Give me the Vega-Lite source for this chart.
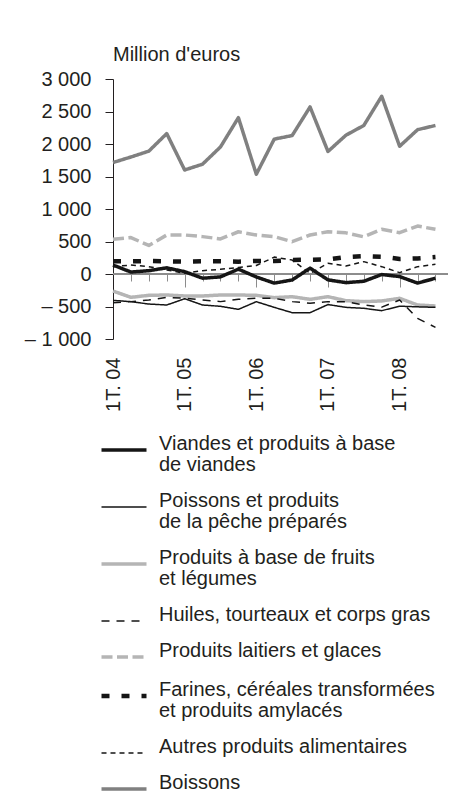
{
  "$schema": "https://vega.github.io/schema/vega-lite/v6.json",
  "width": 335,
  "height": 260,
  "autosize": "none",
  "padding": {"left": 113, "top": 79, "right": 1, "bottom": 462},
  "background": "white",
  "title": {"text": "Million d'euros", "anchor": "start", "frame": "group", "fontSize": 20, "fontWeight": "normal", "font": "Liberation Sans", "color": "#231f20", "baseline": "alphabetic", "offset": -12},
  "config": {
    "view": {"stroke": null},
    "font": "Liberation Sans",
    "axis": {"labelFont": "Liberation Sans", "labelFontSize": 20, "labelColor": "#231f20", "grid": false, "title": null}
  },
  "data": {"values": [
    {"q":0,"serie":"Boissons","v":1715},{"q":1,"serie":"Boissons","v":1800},{"q":2,"serie":"Boissons","v":1890},{"q":3,"serie":"Boissons","v":2160},{"q":4,"serie":"Boissons","v":1600},{"q":5,"serie":"Boissons","v":1690},{"q":6,"serie":"Boissons","v":1955},{"q":7,"serie":"Boissons","v":2405},{"q":8,"serie":"Boissons","v":1535},{"q":9,"serie":"Boissons","v":2075},{"q":10,"serie":"Boissons","v":2130},{"q":11,"serie":"Boissons","v":2570},{"q":12,"serie":"Boissons","v":1885},{"q":13,"serie":"Boissons","v":2135},{"q":14,"serie":"Boissons","v":2285},{"q":15,"serie":"Boissons","v":2735},{"q":16,"serie":"Boissons","v":1965},{"q":17,"serie":"Boissons","v":2220},{"q":18,"serie":"Boissons","v":2285},
    {"q":0,"serie":"Laitiers","v":533},{"q":1,"serie":"Laitiers","v":560},{"q":2,"serie":"Laitiers","v":440},{"q":3,"serie":"Laitiers","v":600},{"q":4,"serie":"Laitiers","v":600},{"q":5,"serie":"Laitiers","v":575},{"q":6,"serie":"Laitiers","v":540},{"q":7,"serie":"Laitiers","v":650},{"q":8,"serie":"Laitiers","v":600},{"q":9,"serie":"Laitiers","v":575},{"q":10,"serie":"Laitiers","v":497},{"q":11,"serie":"Laitiers","v":600},{"q":12,"serie":"Laitiers","v":651},{"q":13,"serie":"Laitiers","v":633},{"q":14,"serie":"Laitiers","v":572},{"q":15,"serie":"Laitiers","v":687},{"q":16,"serie":"Laitiers","v":636},{"q":17,"serie":"Laitiers","v":738},{"q":18,"serie":"Laitiers","v":687},
    {"q":0,"serie":"Fruits","v":-262},{"q":1,"serie":"Fruits","v":-359},{"q":2,"serie":"Fruits","v":-328},{"q":3,"serie":"Fruits","v":-323},{"q":4,"serie":"Fruits","v":-338},{"q":5,"serie":"Fruits","v":-338},{"q":6,"serie":"Fruits","v":-323},{"q":7,"serie":"Fruits","v":-323},{"q":8,"serie":"Fruits","v":-328},{"q":9,"serie":"Fruits","v":-364},{"q":10,"serie":"Fruits","v":-349},{"q":11,"serie":"Fruits","v":-390},{"q":12,"serie":"Fruits","v":-349},{"q":13,"serie":"Fruits","v":-410},{"q":14,"serie":"Fruits","v":-425},{"q":15,"serie":"Fruits","v":-415},{"q":16,"serie":"Fruits","v":-374},{"q":17,"serie":"Fruits","v":-477},{"q":18,"serie":"Fruits","v":-492},
    {"q":0,"serie":"Farines","v":195},{"q":1,"serie":"Farines","v":195},{"q":2,"serie":"Farines","v":200},{"q":3,"serie":"Farines","v":195},{"q":4,"serie":"Farines","v":190},{"q":5,"serie":"Farines","v":195},{"q":6,"serie":"Farines","v":195},{"q":7,"serie":"Farines","v":190},{"q":8,"serie":"Farines","v":200},{"q":9,"serie":"Farines","v":200},{"q":10,"serie":"Farines","v":215},{"q":11,"serie":"Farines","v":220},{"q":12,"serie":"Farines","v":225},{"q":13,"serie":"Farines","v":262},{"q":14,"serie":"Farines","v":275},{"q":15,"serie":"Farines","v":265},{"q":16,"serie":"Farines","v":232},{"q":17,"serie":"Farines","v":240},{"q":18,"serie":"Farines","v":260},
    {"q":0,"serie":"Autres","v":113},{"q":1,"serie":"Autres","v":138},{"q":2,"serie":"Autres","v":113},{"q":3,"serie":"Autres","v":62},{"q":4,"serie":"Autres","v":10},{"q":5,"serie":"Autres","v":51},{"q":6,"serie":"Autres","v":72},{"q":7,"serie":"Autres","v":100},{"q":8,"serie":"Autres","v":130},{"q":9,"serie":"Autres","v":260},{"q":10,"serie":"Autres","v":215},{"q":11,"serie":"Autres","v":10},{"q":12,"serie":"Autres","v":164},{"q":13,"serie":"Autres","v":123},{"q":14,"serie":"Autres","v":190},{"q":15,"serie":"Autres","v":113},{"q":16,"serie":"Autres","v":21},{"q":17,"serie":"Autres","v":113},{"q":18,"serie":"Autres","v":149},
    {"q":0,"serie":"Huiles","v":-441},{"q":1,"serie":"Huiles","v":-425},{"q":2,"serie":"Huiles","v":-400},{"q":3,"serie":"Huiles","v":-359},{"q":4,"serie":"Huiles","v":-374},{"q":5,"serie":"Huiles","v":-400},{"q":6,"serie":"Huiles","v":-425},{"q":7,"serie":"Huiles","v":-390},{"q":8,"serie":"Huiles","v":-374},{"q":9,"serie":"Huiles","v":-374},{"q":10,"serie":"Huiles","v":-425},{"q":11,"serie":"Huiles","v":-451},{"q":12,"serie":"Huiles","v":-425},{"q":13,"serie":"Huiles","v":-425},{"q":14,"serie":"Huiles","v":-477},{"q":15,"serie":"Huiles","v":-510},{"q":16,"serie":"Huiles","v":-400},{"q":17,"serie":"Huiles","v":-682},{"q":18,"serie":"Huiles","v":-820},
    {"q":0,"serie":"Poissons","v":-405},{"q":1,"serie":"Poissons","v":-426},{"q":2,"serie":"Poissons","v":-462},{"q":3,"serie":"Poissons","v":-477},{"q":4,"serie":"Poissons","v":-380},{"q":5,"serie":"Poissons","v":-477},{"q":6,"serie":"Poissons","v":-497},{"q":7,"serie":"Poissons","v":-544},{"q":8,"serie":"Poissons","v":-426},{"q":9,"serie":"Poissons","v":-513},{"q":10,"serie":"Poissons","v":-595},{"q":11,"serie":"Poissons","v":-595},{"q":12,"serie":"Poissons","v":-470},{"q":13,"serie":"Poissons","v":-513},{"q":14,"serie":"Poissons","v":-528},{"q":15,"serie":"Poissons","v":-564},{"q":16,"serie":"Poissons","v":-495},{"q":17,"serie":"Poissons","v":-505},{"q":18,"serie":"Poissons","v":-513},
    {"q":0,"serie":"Viandes","v":138},{"q":1,"serie":"Viandes","v":30},{"q":2,"serie":"Viandes","v":51},{"q":3,"serie":"Viandes","v":95},{"q":4,"serie":"Viandes","v":36},{"q":5,"serie":"Viandes","v":-65},{"q":6,"serie":"Viandes","v":-44},{"q":7,"serie":"Viandes","v":75},{"q":8,"serie":"Viandes","v":-46},{"q":9,"serie":"Viandes","v":-140},{"q":10,"serie":"Viandes","v":-92},{"q":11,"serie":"Viandes","v":90},{"q":12,"serie":"Viandes","v":-90},{"q":13,"serie":"Viandes","v":-133},{"q":14,"serie":"Viandes","v":-112},{"q":15,"serie":"Viandes","v":-8},{"q":16,"serie":"Viandes","v":-40},{"q":17,"serie":"Viandes","v":-140},{"q":18,"serie":"Viandes","v":-65}
  ]},
  "layer": [
    {
      "mark": {"type": "rule", "color": "#8c8c8c", "strokeWidth": 1},
      "encoding": {
        "y": {"datum": 0, "type": "quantitative", "scale": {"domain": [-1000, 3000], "nice": false},
          "axis": {"values": [-1000,-500,0,500,1000,1500,2000,2500,3000], "tickSize": 8, "labelPadding": 14,
            "domainColor": "#231f20", "tickColor": "#231f20", "title": null,
            "labelExpr": "datum.value < 0 ? '– ' + replace(format(-datum.value, ','), ',', ' ') : replace(format(datum.value, ','), ',', ' ')"}},
        "x": {"datum": 0, "type": "quantitative", "scale": {"domain": [0, 18.7], "nice": false, "zero": false},
          "axis": {"orient": "bottom", "offset": -65, "domain": false, "labels": false, "title": null,
            "values": [1,2,3,4,5,6,7,8,9,10,11,12,13,14,15,16,17,18],
            "tickColor": "#8c8c8c", "tickWidth": 1,
            "tickSize": {"condition": {"test": "datum.value % 4 === 0", "value": 13}, "value": 7}}},
        "x2": {"datum": 18.7}
      }
    },
    {
      "mark": {"type": "line", "strokeJoin": "round"},
      "encoding": {
        "x": {"field": "q", "type": "quantitative", "scale": {"domain": [0, 18.7], "nice": false, "zero": false},
          "axis": {"orient": "bottom", "values": [0,4,8,12,16], "labelAngle": -90, "ticks": false, "domain": false,
            "labelPadding": 18, "labelFlush": false, "labelOverlap": false, "title": null,
            "labelExpr": "'1T. ' + ['04','05','06','07','08'][round(datum.value/4)]"}},
        "y": {"field": "v", "type": "quantitative", "scale": {"domain": [-1000, 3000], "nice": false},
          "axis": {"values": [-1000,-500,0,500,1000,1500,2000,2500,3000], "tickSize": 8, "labelPadding": 14,
            "domainColor": "#231f20", "tickColor": "#231f20", "title": null,
            "labelExpr": "datum.value < 0 ? '– ' + replace(format(-datum.value, ','), ',', ' ') : replace(format(datum.value, ','), ',', ' ')"}},
        "color": {"field": "serie", "type": "nominal",
          "scale": {"domain": ["Viandes","Poissons","Fruits","Huiles","Laitiers","Farines","Autres","Boissons"],
            "range": ["#151515","#151515","#b5b5b5","#151515","#b5b5b5","#151515","#151515","#808080"]},
          "legend": {"orient": "none", "legendX": 1, "legendY": 361, "title": null, "direction": "vertical",
            "symbolType": "stroke", "symbolSize": 2025, "labelFontSize": 20, "labelFont": "Liberation Sans",
            "labelColor": "#231f20", "labelBaseline": "alphabetic", "labelOffset": 25, "labelLimit": 600,
            "rowPadding": 16, "padding": 0, "offset": 0,
            "labelExpr": "datum.label == 'Viandes' ? ['Viandes et produits à base', 'de viandes'] : datum.label == 'Poissons' ? ['Poissons et produits', 'de la pêche préparés'] : datum.label == 'Fruits' ? ['Produits à base de fruits', 'et légumes'] : datum.label == 'Huiles' ? 'Huiles, tourteaux et corps gras' : datum.label == 'Laitiers' ? 'Produits laitiers et glaces' : datum.label == 'Farines' ? ['Farines, céréales transformées', 'et produits amylacés'] : datum.label == 'Autres' ? 'Autres produits alimentaires' : 'Boissons'",
            "encode": {
              "symbols": {"update": {"strokeWidth": {"signal": "indexof(['Poissons','Huiles','Autres'], datum.value) >= 0 ? 1.5 : datum.value == 'Farines' ? 4.5 : 3.5"}}},
              "labels": {"update": {"lineHeight": {"value": 21}}}
            }}},
        "strokeDash": {"field": "serie", "type": "nominal",
          "scale": {"domain": ["Viandes","Poissons","Fruits","Huiles","Laitiers","Farines","Autres","Boissons"],
            "range": [[1,0],[1,0],[1,0],[8,7],[11,4.5],[8,12],[5,4],[1,0]]}},
        "strokeWidth": {"condition": [
            {"test": "indexof(['Poissons','Huiles','Autres'], datum.serie) >= 0", "value": 1.5},
            {"test": "datum.serie == 'Farines'", "value": 4.5}],
          "value": 3.5}
      }
    }
  ],
  "resolve": {"axis": {"x": "independent"}}
}
